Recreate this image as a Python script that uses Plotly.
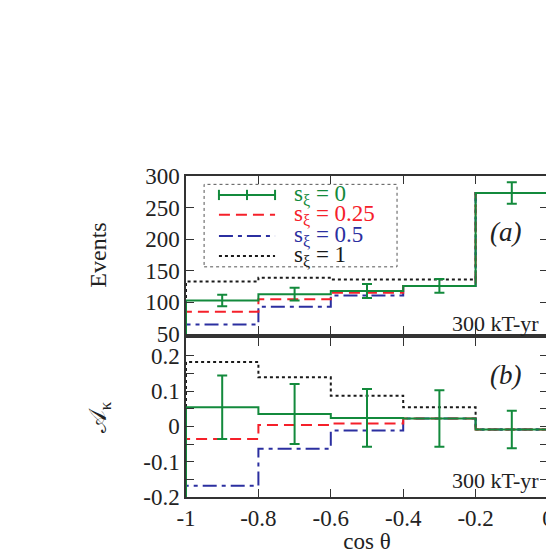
import plotly.graph_objects as go

# bin edges in cos(theta) and bin centres
edges = [-1, -0.8, -0.6, -0.4, -0.2, 0]
centres = [-0.9, -0.7, -0.5, -0.3, -0.1]

# panel (a): events per bin
ev_s0 = [103, 113, 118, 126, 273]
ev_s0_err = [9, 10, 11, 11, 17]
ev_s025 = [85, 105, 115, 126, 273]
ev_s05 = [65, 93, 111, 126, 273]
ev_s1 = [133, 139, 136, 136, 273]

# panel (b): asymmetry A_kappa per bin
ak_s0 = [0.054, 0.035, 0.024, 0.022, -0.009]
ak_s0_err = [0.09, 0.085, 0.082, 0.08, 0.053]
ak_s025 = [-0.036, 0.004, 0.008, 0.022, -0.009]
ak_s05 = [-0.168, -0.063, -0.012, 0.022, -0.009]
ak_s1 = [0.182, 0.139, 0.087, 0.054, -0.009]

labels = ["s<sub>ξ</sub> = 0", "s<sub>ξ</sub> = 0.25", "s<sub>ξ</sub> = 0.5", "s<sub>ξ</sub> = 1"]
colors = ["#138a3c", "#f5202a", "#2b2fa0", "#1a1a1a"]
dashes = ["solid", "11px,6px", "14px,5px,4px,5px", "3px,3px"]

top_range = [50, 300]
bot_range = [-0.2, 0.25]

FONT = "Liberation Serif, Times New Roman, serif"

fig = go.Figure()


def step(vals, floor):
    xs = [edges[0]] + edges + [edges[-1]]
    ys = [floor] + vals + [vals[-1], floor]
    return xs, ys


# draw s=1 first so coloured lines sit above
order = [3, 2, 1, 0]
top_sets = [ev_s0, ev_s025, ev_s05, ev_s1]
bot_sets = [ak_s0, ak_s025, ak_s05, ak_s1]
for i in order:
    xs, ys = step(top_sets[i], top_range[0])
    fig.add_trace(go.Scatter(x=xs, y=ys, mode="lines", line_shape="hv",
                             line=dict(color=colors[i], dash=dashes[i], width=2),
                             xaxis="x", yaxis="y", showlegend=False))
    xs, ys = step(bot_sets[i], bot_range[0])
    fig.add_trace(go.Scatter(x=xs[:-1], y=ys[:-1], mode="lines", line_shape="hv",
                             line=dict(color=colors[i], dash=dashes[i], width=2),
                             xaxis="x2", yaxis="y2", showlegend=False))

# error bars for s=0
fig.add_trace(go.Scatter(x=centres, y=ev_s0, mode="markers",
                         marker=dict(size=1, color=colors[0]),
                         error_y=dict(type="data", array=ev_s0_err, color=colors[0],
                                      thickness=2, width=5),
                         xaxis="x", yaxis="y", showlegend=False))
fig.add_trace(go.Scatter(x=centres, y=ak_s0, mode="markers",
                         marker=dict(size=1, color=colors[0]),
                         error_y=dict(type="data", array=ak_s0_err, color=colors[0],
                                      thickness=2, width=5),
                         xaxis="x2", yaxis="y2", showlegend=False))

xticks = [-1, -0.8, -0.6, -0.4, -0.2, 0]
xtext = ["-1", "-0.8", "-0.6", "-0.4", "-0.2", "0"]

axis_common = dict(showline=True, linecolor="#333333", linewidth=1.5, mirror="allticks",
                   ticks="inside", ticklen=8, tickcolor="#333333", showgrid=False,
                   zeroline=False, automargin=False,
                   tickfont=dict(family=FONT, size=23, color="#222222"))

# the page body has an 8px margin: a 546px figure puts the frame
# at x 186..548, y 176..497 of the window
fig.update_layout(
    width=546, height=546,
    margin=dict(l=178, r=6, t=168, b=57),
    paper_bgcolor="white", plot_bgcolor="white",
    font=dict(family=FONT, color="#222222"),
    xaxis=dict(axis_common, domain=[0, 1], range=[-1, 0], anchor="y",
               tickvals=xticks, showticklabels=False),
    yaxis=dict(axis_common, domain=[0.508, 1], range=top_range, anchor="x",
               tickvals=[50, 100, 150, 200, 250, 300],
               title=dict(text="Events", font=dict(family=FONT, size=24), standoff=32)),
    xaxis2=dict(axis_common, domain=[0, 1], range=[-1, 0], anchor="y2",
                tickvals=xticks, ticktext=xtext,
                title=dict(text="cos θ", font=dict(family=FONT, size=23), standoff=6)),
    yaxis2=dict(axis_common, domain=[0, 0.495], range=bot_range, anchor="x2",
                tickvals=[-0.2, -0.1, 0, 0.1, 0.2],
                ticktext=["-0.2", "-0.1", "0", "0.1", "0.2"],
                minor=dict(dtick=0.05, tick0=0, ticks="inside", ticklen=8,
                           tickcolor="#333333"),
                title=dict(text="𝒜<sub>κ</sub>", font=dict(family=FONT, size=24),
                           standoff=30)),
)

# hand drawn legend box (gnuplot style)
fig.add_shape(type="rect", xref="paper", yref="paper", x0=0.05, x1=0.583, y0=0.717, y1=0.974,
              line=dict(color="#555555", width=1, dash="dot"))
rows = [0.941, 0.879, 0.813, 0.751]
for i in range(4):
    fig.add_shape(type="line", xref="paper", yref="paper", x0=0.091, x1=0.246,
                  y0=rows[i], y1=rows[i],
                  line=dict(color=colors[i], dash=dashes[i], width=2))
    fig.add_annotation(x=0.293, y=rows[i], xref="paper", yref="paper", text=labels[i],
                       showarrow=False, xanchor="left", yanchor="middle",
                       font=dict(family=FONT, size=23, color=colors[i]))
for xc in [0.091, 0.1685, 0.246]:
    fig.add_shape(type="line", xref="paper", yref="paper", x0=xc, x1=xc,
                  y0=rows[0] - 0.016, y1=rows[0] + 0.016,
                  line=dict(color=colors[0], width=2))

# panel labels
fig.add_annotation(x=0.93, y=0.88, xref="paper", yref="paper", text="<i>(a)</i>",
                   showarrow=False, font=dict(family=FONT, size=27, color="#222222"))
fig.add_annotation(x=0.93, y=0.38, xref="paper", yref="paper", text="<i>(b)</i>",
                   showarrow=False, font=dict(family=FONT, size=27, color="#222222"))
fig.add_annotation(x=0.98, y=0.54, xref="paper", yref="paper", text="300 kT-yr",
                   showarrow=False, xanchor="right", yanchor="middle",
                   font=dict(family=FONT, size=22, color="#222222"))
fig.add_annotation(x=0.98, y=0.05, xref="paper", yref="paper", text="300 kT-yr",
                   showarrow=False, xanchor="right", yanchor="middle",
                   font=dict(family=FONT, size=22, color="#222222"))

fig.write_html("out.html")
